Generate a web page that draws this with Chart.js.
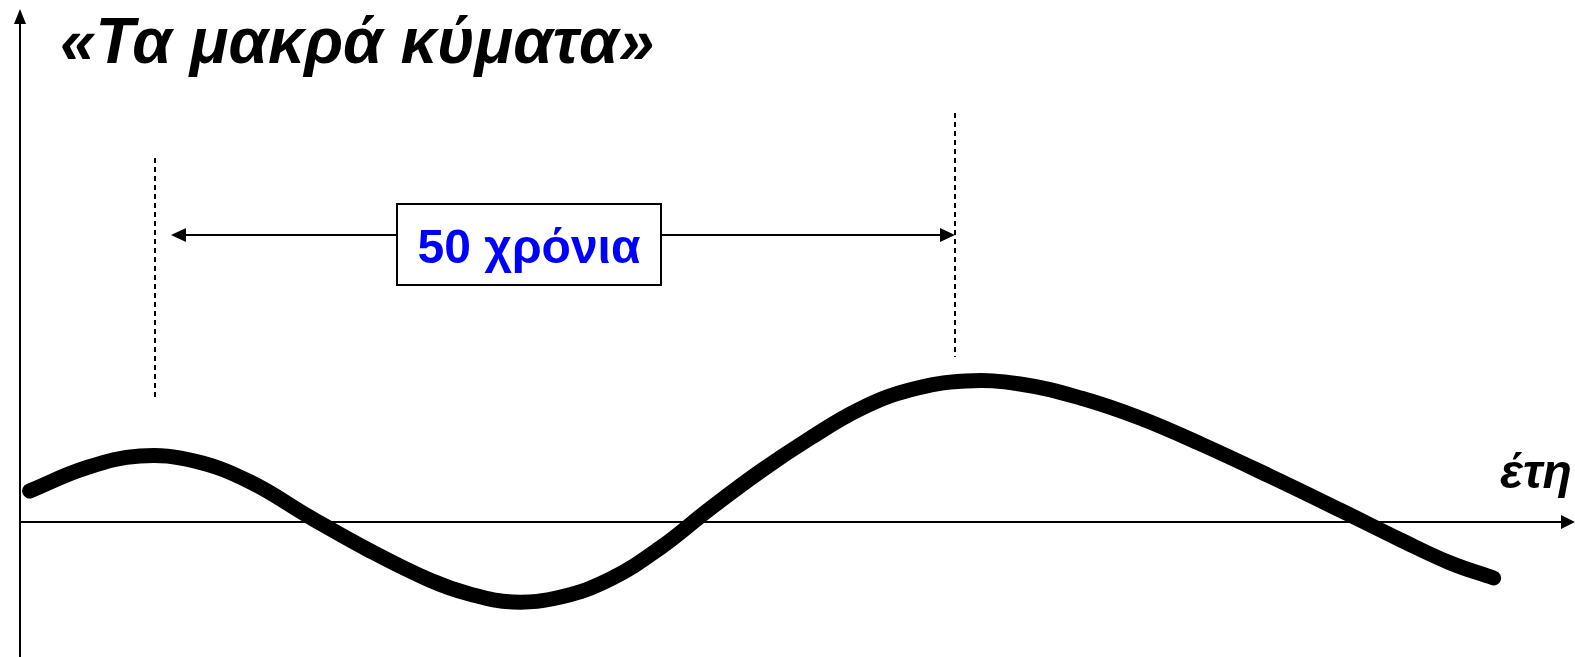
<!DOCTYPE html>
<html lang="el">
<head>
<meta charset="utf-8">
<title>Τα μακρά κύματα</title>
<script src="https://cdn.jsdelivr.net/npm/chart.js@4.4.1/dist/chart.umd.min.js"></script>
<style>
  html, body { margin: 0; padding: 0; background: #ffffff; overflow: hidden; }
</style>
</head>
<body>
<canvas id="waveChart" width="1575" height="657"></canvas>
<script>
// ============================
// 1. Dados
// ============================
const years = [0.6, 4.1, 7.5, 10.9, 14.4, 18.1, 21.9, 25.6, 28.1, 30.8, 33.8, 36.9, 40.0, 43.1, 46.3, 49.4, 52.5, 55.6, 59.1, 62.5, 66.3, 70.0, 73.8, 78.1, 82.5, 86.3, 89.4, 92.1];
const values = [3.1, 5.4, 6.6, 6.1, 4.0, 0.5, -2.9, -5.8, -7.2, -8.0, -7.5, -5.7, -2.6, 1.3, 5.1, 8.4, 11.3, 13.2, 14.1, 13.8, 12.4, 10.4, 7.8, 4.6, 1.2, -1.8, -4.1, -5.6];

// marcadores do ciclo de 50 anos
const cycleStart = 8.4;
const cycleEnd = 58.4;

// textos
const titleText = "«Τα μακρά κύματα»";
const axisLabel = "έτη";
const spanLabel = "50 χρόνια";

// ============================
// 2. Funções de desenho
// ============================
function arrowHead(ctx, x, y, angle, len, half) {
  ctx.save();
  ctx.translate(x, y);
  ctx.rotate(angle);
  ctx.beginPath();
  ctx.moveTo(0, 0);
  ctx.lineTo(-len, -half);
  ctx.lineTo(-len, half);
  ctx.closePath();
  ctx.fill();
  ctx.restore();
}

// eixos com setas (desenhados antes da curva)
const axesPlugin = {
  id: "axesArrows",
  beforeDatasetsDraw(chart) {
    const { ctx, scales: { x, y } } = chart;
    const x0 = Math.round(x.getPixelForValue(0));
    const y0 = Math.round(y.getPixelForValue(0));
    ctx.save();
    ctx.strokeStyle = "#000";
    ctx.fillStyle = "#000";
    ctx.lineWidth = 2;
    // eixo vertical
    ctx.beginPath();
    ctx.moveTo(x0, chart.height);
    ctx.lineTo(x0, 22);
    ctx.stroke();
    arrowHead(ctx, x0, 9, -Math.PI / 2, 15, 6);
    // eixo horizontal
    ctx.beginPath();
    ctx.moveTo(x0, y0);
    ctx.lineTo(chart.width - 12, y0);
    ctx.stroke();
    arrowHead(ctx, chart.width, y0, 0, 14, 7);
    ctx.restore();
  }
};

// linhas tracejadas, seta de 50 anos, caixa e textos
const annotPlugin = {
  id: "annotations",
  afterDraw(chart) {
    const { ctx, scales: { x, y } } = chart;
    const xs = Math.round(x.getPixelForValue(cycleStart)) + 1;
    const xe = Math.round(x.getPixelForValue(cycleEnd)) + 1;
    const yArrow = Math.round(y.getPixelForValue(28.7));

    ctx.save();
    ctx.strokeStyle = "#000";
    ctx.fillStyle = "#000";
    ctx.lineWidth = 2;

    // tracejadas
    ctx.setLineDash([5, 4]);
    ctx.beginPath();
    ctx.moveTo(xs, y.getPixelForValue(36.4));
    ctx.lineTo(xs, y.getPixelForValue(12.2));
    ctx.moveTo(xe, y.getPixelForValue(40.9));
    ctx.lineTo(xe, y.getPixelForValue(16.5));
    ctx.stroke();
    ctx.setLineDash([]);

    // seta dupla
    const left = xs + 16;
    ctx.beginPath();
    ctx.moveTo(left + 10, yArrow);
    ctx.lineTo(xe - 10, yArrow);
    ctx.stroke();
    arrowHead(ctx, left, yArrow, Math.PI, 15, 7);
    arrowHead(ctx, xe, yArrow, 0, 15, 7);

    // caixa
    const bx = 397, by = 204, bw = 264, bh = 81;
    ctx.fillStyle = "#fff";
    ctx.fillRect(bx, by, bw, bh);
    ctx.strokeRect(bx, by, bw, bh);

    ctx.fillStyle = "#0000ff";
    ctx.font = "bold 48px 'Liberation Sans', Arial, sans-serif";
    ctx.textAlign = "center";
    ctx.textBaseline = "alphabetic";
    ctx.fillText(spanLabel, bx + bw / 2, 263);

    // título e rótulo do eixo
    ctx.fillStyle = "#000";
    ctx.textAlign = "left";
    ctx.font = "italic bold 64px 'Liberation Sans', Arial, sans-serif";
    ctx.fillText(titleText, 60, 63);
    ctx.font = "italic bold 48px 'Liberation Sans', Arial, sans-serif";
    ctx.fillText(axisLabel, 1500, 488);
    ctx.restore();
  }
};

// ============================
// 3. Gráfico
// ============================
new Chart(document.getElementById("waveChart"), {
  type: "line",
  data: {
    datasets: [{
      data: years.map((yr, i) => ({ x: yr, y: values[i] })),
      borderColor: "#000",
      borderWidth: 15,
      borderCapStyle: "round",
      borderJoinStyle: "round",
      pointRadius: 0,
      tension: 0.4,
      fill: false
    }]
  },
  options: {
    responsive: false,
    animation: false,
    devicePixelRatio: 1,
    layout: { padding: { left: 20, right: 0, top: 0, bottom: 0 } },
    plugins: { legend: { display: false }, tooltip: { enabled: false } },
    scales: {
      x: { type: "linear", min: 0, max: 97.1875, display: false },
      y: { min: -13.5, max: 52.2, display: false }
    },
    elements: { line: { capBezierPoints: false } },
    clip: false
  },
  plugins: [axesPlugin, annotPlugin]
});
</script>
</body>
</html>
